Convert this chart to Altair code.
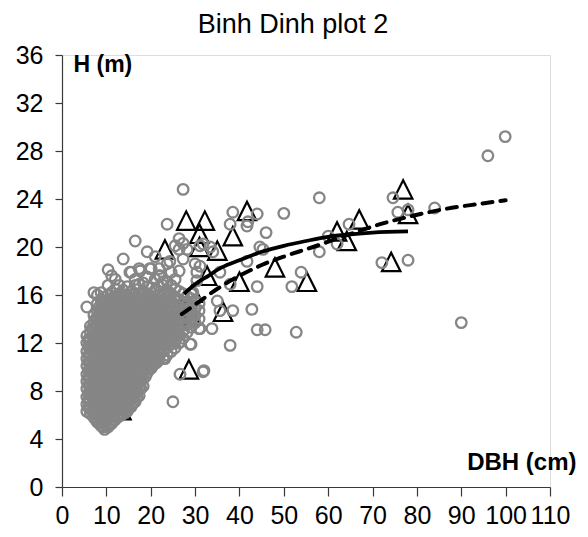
import altair as alt
import pandas as pd

TITLE = "Binh Dinh plot 2"
X_TICKS = list(range(0, 111, 10))
Y_TICKS = list(range(0, 37, 4))

# dense cloud of gray circles, read column by column (DBH -> heights)
blob = {
    5.6: [6.3, 6.9, 7.5, 8.2, 8.8, 9.4, 10.1, 10.7, 11.3, 12.0, 12.6, 15.0],
    6.4: [6.1, 6.6, 7.2, 7.9, 8.5, 9.1, 9.7, 10.4, 11.0, 11.6, 12.3, 12.9, 13.4],
    7.2: [5.8, 6.4, 7.0, 7.6, 8.2, 8.8, 9.4, 10.0, 10.6, 11.2, 11.8, 12.5, 13.1, 13.7, 14.3, 16.2],
    8.0: [5.4, 6.0, 6.7, 7.3, 7.9, 8.5, 9.1, 9.7, 10.3, 10.9, 11.5, 12.2, 12.8, 13.4, 14.0, 14.6, 15.3, 16.0],
    8.8: [5.1, 5.7, 6.3, 6.9, 7.5, 8.1, 8.7, 9.3, 9.9, 10.6, 11.2, 11.8, 12.4, 13.0, 13.7, 14.3, 14.9, 15.6, 16.2],
    9.6: [4.8, 5.4, 6.0, 6.6, 7.2, 7.8, 8.4, 9.0, 9.6, 10.2, 10.9, 11.5, 12.1, 12.7, 13.3, 13.9, 14.5, 15.1, 15.8],
    10.4: [5.0, 5.6, 6.2, 6.8, 7.4, 8.0, 8.6, 9.2, 9.8, 10.4, 11.0, 11.6, 12.2, 12.8, 13.5, 14.1, 14.7, 15.3, 16.0, 16.8, 18.1],
    11.2: [5.3, 5.9, 6.5, 7.1, 7.7, 8.3, 8.9, 9.5, 10.1, 10.7, 11.3, 11.9, 12.5, 13.1, 13.7, 14.3, 14.9, 15.5, 16.2, 17.6],
    12.0: [5.6, 6.2, 6.8, 7.4, 8.0, 8.6, 9.2, 9.8, 10.4, 11.0, 11.6, 12.2, 12.8, 13.4, 14.0, 14.6, 15.2, 15.9, 16.5, 17.3],
    12.9: [5.9, 6.5, 7.1, 7.7, 8.3, 8.9, 9.5, 10.1, 10.7, 11.3, 11.9, 12.5, 13.1, 13.7, 14.3, 14.9, 15.5, 16.1, 16.8],
    13.8: [6.1, 6.7, 7.3, 7.9, 8.5, 9.1, 9.7, 10.3, 10.9, 11.5, 12.1, 12.7, 13.3, 13.9, 14.5, 15.1, 15.8, 16.4, 19.0],
    14.7: [6.3, 6.9, 7.5, 8.1, 8.7, 9.3, 9.9, 10.5, 11.1, 11.7, 12.3, 12.9, 13.5, 14.1, 14.7, 15.3, 16.0, 16.7],
    15.6: [6.7, 7.3, 7.9, 8.5, 9.1, 9.7, 10.3, 10.9, 11.5, 12.1, 12.7, 13.3, 13.9, 14.5, 15.1, 15.7, 16.3, 17.9],
    16.5: [7.1, 7.7, 8.3, 8.9, 9.5, 10.1, 10.7, 11.3, 11.9, 12.5, 13.1, 13.7, 14.3, 14.9, 15.5, 16.1, 16.8, 17.3, 20.5],
    17.4: [7.6, 8.3, 8.9, 9.5, 10.1, 10.7, 11.3, 11.9, 12.5, 13.1, 13.7, 14.3, 14.9, 15.5, 16.1, 16.9, 18.2],
    18.3: [8.4, 9.0, 9.6, 10.2, 10.8, 11.4, 12.0, 12.6, 13.2, 13.8, 14.4, 15.0, 15.6, 16.3, 17.0],
    19.2: [9.5, 10.1, 10.7, 11.3, 11.9, 12.5, 13.1, 13.7, 14.3, 14.9, 15.5, 16.1, 16.7, 17.5, 19.6],
    20.1: [9.9, 10.5, 11.1, 11.7, 12.3, 12.9, 13.5, 14.1, 14.7, 15.3, 15.9, 16.6, 18.2],
    21.0: [10.3, 10.9, 11.5, 12.1, 12.7, 13.3, 13.9, 14.5, 15.1, 15.7, 16.4, 17.3, 19.2],
    21.9: [10.6, 11.2, 11.8, 12.4, 13.0, 13.6, 14.2, 14.8, 15.4, 16.0, 16.7, 17.6, 18.2],
    22.8: [10.7, 11.3, 11.9, 12.5, 13.1, 13.7, 14.3, 14.9, 15.5, 16.1, 16.8, 17.1],
    23.7: [11.0, 11.6, 12.2, 12.8, 13.4, 14.0, 14.6, 15.2, 15.8, 16.4, 17.1, 18.6, 21.9],
    24.6: [11.3, 11.9, 12.5, 13.1, 13.7, 14.3, 14.9, 15.5, 16.1, 16.8, 17.9],
    25.5: [11.6, 12.2, 12.8, 13.4, 14.0, 14.6, 15.2, 15.8, 16.5, 17.3, 20.1],
    26.4: [12.0, 12.6, 13.2, 13.8, 14.4, 15.0, 15.6, 16.3, 18.0, 19.8, 20.7],
    27.3: [12.4, 13.0, 13.6, 14.2, 14.8, 15.4, 16.1, 19.0, 20.3, 24.8],
    28.2: [12.9, 13.5, 14.1, 14.7, 15.3, 15.9, 19.8],
    29.1: [11.9, 13.3, 13.9, 14.5, 15.1, 15.7, 16.1],
    30.0: [13.7, 14.3, 14.9, 15.5, 18.6],
    30.9: [13.2, 14.0, 14.7, 15.3],
}

# second, offset set of columns filling the solid core of the cloud
core = {
    6.0: [6.6, 7.2, 7.8, 8.5, 9.1, 9.7, 10.4, 11.0, 11.7, 12.3],
    6.8: [6.3, 6.9, 7.5, 8.1, 8.7, 9.4, 10.0, 10.6, 11.3, 11.9, 12.6, 13.2],
    7.6: [5.6, 6.2, 6.8, 7.4, 8.0, 8.6, 9.2, 9.8, 10.4, 11.0, 11.6, 12.2, 12.8, 13.4, 14.0],
    8.4: [5.3, 5.9, 6.5, 7.1, 7.7, 8.3, 8.9, 9.5, 10.1, 10.7, 11.3, 11.9, 12.5, 13.2, 13.8, 14.4, 15.0],
    9.2: [5.0, 5.6, 6.2, 6.8, 7.4, 8.0, 8.6, 9.2, 9.8, 10.4, 11.0, 11.7, 12.3, 12.9, 13.5, 14.1, 14.8, 15.4],
    10.0: [5.1, 5.7, 6.3, 6.9, 7.5, 8.1, 8.7, 9.3, 9.9, 10.5, 11.1, 11.8, 12.4, 13.0, 13.6, 14.2, 14.8, 15.5],
    10.8: [5.2, 5.8, 6.4, 7.0, 7.6, 8.2, 8.8, 9.4, 10.0, 10.6, 11.2, 11.8, 12.4, 13.0, 13.6, 14.2, 14.8, 15.6],
    11.6: [5.6, 6.2, 6.8, 7.4, 8.0, 8.6, 9.2, 9.8, 10.4, 11.0, 11.6, 12.2, 12.8, 13.4, 14.0, 14.6, 15.2, 15.8],
    12.4: [5.8, 6.4, 7.0, 7.6, 8.2, 8.8, 9.4, 10.0, 10.6, 11.2, 11.8, 12.4, 13.0, 13.6, 14.2, 14.8, 15.4, 16.0],
    13.3: [6.0, 6.6, 7.2, 7.8, 8.4, 9.0, 9.6, 10.2, 10.8, 11.4, 12.0, 12.6, 13.2, 13.8, 14.4, 15.0, 15.6],
    14.2: [6.3, 6.9, 7.5, 8.1, 8.7, 9.3, 9.9, 10.5, 11.1, 11.7, 12.3, 12.9, 13.5, 14.1, 14.7, 15.3, 15.9],
    15.1: [6.6, 7.2, 7.8, 8.4, 9.0, 9.6, 10.2, 10.8, 11.4, 12.0, 12.6, 13.2, 13.8, 14.4, 15.0, 15.6],
    16.0: [7.0, 7.6, 8.2, 8.8, 9.4, 10.0, 10.6, 11.2, 11.8, 12.4, 13.0, 13.6, 14.2, 14.8, 15.4, 16.0],
    16.9: [7.5, 8.1, 8.7, 9.3, 9.9, 10.5, 11.1, 11.7, 12.3, 12.9, 13.5, 14.1, 14.7, 15.3, 15.9],
    17.8: [8.2, 8.8, 9.4, 10.0, 10.6, 11.2, 11.8, 12.4, 13.0, 13.6, 14.2, 14.8, 15.4, 16.0],
    18.8: [9.2, 9.8, 10.4, 11.0, 11.6, 12.2, 12.8, 13.4, 14.0, 14.6, 15.2, 15.8],
    19.7: [9.8, 10.4, 11.0, 11.6, 12.2, 12.8, 13.4, 14.0, 14.6, 15.2, 15.8],
    20.6: [10.2, 10.8, 11.4, 12.0, 12.6, 13.2, 13.8, 14.4, 15.0, 15.6],
    21.5: [10.8, 11.4, 12.0, 12.6, 13.2, 13.8, 14.4, 15.0, 15.6],
    22.4: [11.4, 12.0, 12.6, 13.2, 13.8, 14.4, 15.0, 15.6],
    23.3: [11.9, 12.5, 13.1, 13.7, 14.3, 14.9, 15.5],
    24.2: [12.3, 12.9, 13.5, 14.1, 14.7, 15.3],
    25.1: [12.7, 13.3, 13.9, 14.5, 15.1],
}

# scattered gray circles outside the dense cloud
sparse_dbh = [99.9, 96.0, 90.0, 84.0, 78.0, 75.7, 74.6, 78.0, 72.1, 64.7, 62.0, 60.0,
              58.0, 58.0, 53.9, 51.8, 52.8, 50.0, 46.0, 45.3, 45.8, 44.0, 44.0, 41.9,
              38.5, 37.9, 41.7, 44.6, 41.7, 44.0, 37.9, 35.0, 35.6, 38.5, 42.8, 37.9,
              31.8, 26.6, 25.0, 33.8, 31.1, 28.9, 26.6, 23.2, 21.4, 31.1, 33.4, 31.1,
              30.4, 30.4, 29.5, 31.8, 22.1, 19.8, 17.6, 15.3, 34.0, 35.6, 32.0, 24.3]
sparse_h = [29.2, 27.6, 13.7, 23.25, 23.1, 22.9, 24.1, 18.9, 18.7, 21.9, 20.25, 20.9,
            24.1, 19.6, 17.9, 16.7, 12.9, 22.8, 21.2, 19.8, 13.1, 13.1, 22.75, 22.1,
            22.9, 21.9, 21.75, 20.0, 18.8, 16.7, 16.9, 15.5, 14.7, 14.7, 14.8, 11.8,
            9.6, 9.4, 7.1, 13.2, 13.2, 11.9, 12.1, 10.7, 10.4, 20.1, 20.0, 18.4,
            17.9, 17.2, 16.2, 20.25, 17.6, 18.2, 18.0, 17.9, 19.6, 17.9, 9.7, 18.8]

# black open triangles
tri_dbh = [23.2, 28.0, 32.2, 31.0, 31.0, 35.0, 38.5, 41.7, 40.0, 32.7, 48.0, 55.2,
           62.0, 64.2, 67.0, 74.2, 76.9, 78.0, 28.6, 36.3, 29.5,
           11.8, 13.4, 20.0, 24.0, 27.0, 29.0]
tri_h = [19.8, 22.2, 22.2, 21.1, 20.0, 19.7, 20.9, 23.0, 17.1, 17.6, 18.3, 17.1,
         21.3, 20.5, 22.3, 18.75, 24.8, 22.75, 9.8, 14.6, 16.2,
         6.8, 6.4, 14.6, 14.4, 14.8, 14.3]

# fitted curves
solid_dbh = [27.5, 30, 33, 36, 40, 45, 50, 55, 60, 65, 70, 78]
solid_h = [16.1, 16.9, 17.6, 18.3, 18.9, 19.6, 20.1, 20.5, 20.85, 21.05, 21.2, 21.3]
dash_dbh = [27, 30, 33, 36, 40, 45, 50, 56.6, 64.3, 71.7, 79.1, 86.8, 94.2, 100]
dash_h = [14.4, 15.2, 16.0, 16.75, 17.6, 18.5, 19.2, 20.0, 21.0, 21.9, 22.6, 23.2, 23.6, 23.9]

circ_rows = [{"dbh": d, "h": h} for d, hs in blob.items() for h in hs]
circ_rows += [{"dbh": d, "h": h} for d, hs in core.items() for h in hs]
circ_rows += [{"dbh": d, "h": h} for d, h in zip(sparse_dbh, sparse_h)]
circ_df = pd.DataFrame(circ_rows)
tri_df = pd.DataFrame({"dbh": tri_dbh, "h": tri_h})
solid_df = pd.DataFrame({"dbh": solid_dbh, "h": solid_h})
dash_df = pd.DataFrame({"dbh": dash_dbh, "h": dash_h})

FONT = "Liberation Sans"
AX = "#3a3a3a"

x_enc = alt.X(
    "dbh:Q",
    scale=alt.Scale(domain=[0, 110], nice=False, zero=False),
    axis=alt.Axis(
        values=X_TICKS, title="DBH (cm)", grid=False,
        labelFont=FONT, labelFontSize=25, labelColor="black", labelPadding=7,
        labelFlush=False, labelOverlap=False,
        tickSize=9, tickColor=AX, domainColor=AX, tickWidth=1.2, domainWidth=1.2,
        titleFont=FONT, titleFontSize=24, titleFontWeight="bold", titleColor="black",
        titleX=514, titleY=-18, titleAlign="right", titleBaseline="alphabetic",
    ),
)
y_enc = alt.Y(
    "h:Q",
    scale=alt.Scale(domain=[0, 36], nice=False, zero=False),
    axis=alt.Axis(
        values=Y_TICKS, title="H (m)", grid=False,
        labelFont=FONT, labelFontSize=25, labelColor="black", labelPadding=12,
        labelFlush=False, labelOverlap=False,
        tickSize=7, tickColor=AX, domainColor=AX, tickWidth=1.2, domainWidth=1.2,
        titleFont=FONT, titleFontSize=23, titleFontWeight="bold", titleColor="black",
        titleAngle=0, titleX=11, titleY=16, titleAlign="left", titleBaseline="alphabetic",
    ),
)

tri = alt.Chart(tri_df).mark_point(
    shape="M0,-1L1,1L-1,1Z", filled=False, color="black", size=340,
    strokeWidth=2.2, opacity=1,
).encode(x=x_enc, y=y_enc)

circ = alt.Chart(circ_df).mark_point(
    shape="circle", filled=False, color="#868686", size=112,
    strokeWidth=2.3, opacity=1,
).encode(x=x_enc, y=y_enc)

solid = alt.Chart(solid_df).mark_line(
    color="black", strokeWidth=3.8, interpolate="monotone",
).encode(x=x_enc, y=y_enc)

dashed = alt.Chart(dash_df).mark_line(
    color="black", strokeWidth=4, interpolate="monotone",
    strokeDash=[10, 8], strokeCap="round",
).encode(x=x_enc, y=y_enc)

chart = alt.layer(tri, circ, solid, dashed).properties(
    width=488,
    height=432,
    title=alt.TitleParams(
        TITLE, font=FONT, fontSize=27, fontWeight="normal", color="black",
        anchor="middle", frame="group", dx=-13, offset=4,
    ),
    autosize=alt.AutoSizeParams(type="none"),
    padding={"left": 54, "top": 47, "right": 30, "bottom": 42},
).configure_view(stroke=None).configure(background="white")

chart.save("out.html", embed_options={"renderer": "svg", "actions": False})
